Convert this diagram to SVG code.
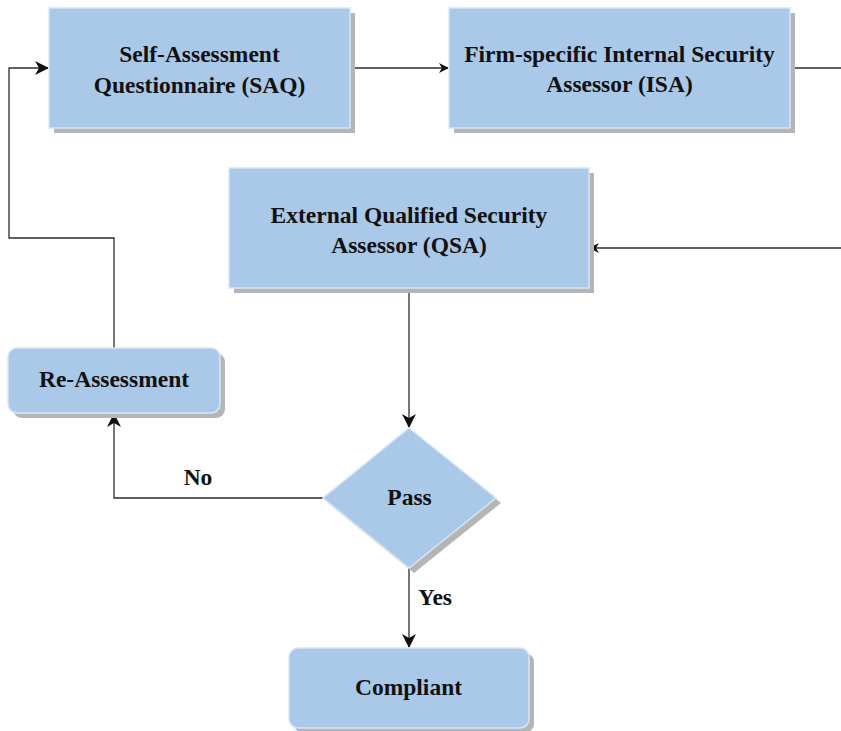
<svg xmlns="http://www.w3.org/2000/svg" width="841" height="731" viewBox="0 0 841 731">
  <style>
    .shadow { fill: #b5b5b5; }
    .box { fill: #aac9e8; stroke: #d6e6f5; stroke-width: 1.5; }
    .label { font-family: "Liberation Serif", "Times New Roman", serif; font-weight: bold; font-size: 23.5px; fill: #111; text-anchor: middle; }
    .edge { fill: none; stroke: #2b2b2b; stroke-width: 1.3; }
  </style>
  <defs>
    <marker id="arrow" viewBox="0 0 10 10" refX="9" refY="5" markerWidth="10" markerHeight="10" markerUnits="userSpaceOnUse" orient="auto">
      <path d="M0,0 L10,5 L0,10 L3,5 Z" fill="#111"/>
    </marker>
    <marker id="arrowL" viewBox="0 0 14 14" refX="13" refY="7" markerWidth="14" markerHeight="14" markerUnits="userSpaceOnUse" orient="auto">
      <path d="M0,0 L14,7 L0,14 L4,7 Z" fill="#111"/>
    </marker>
  </defs>
  <rect width="841" height="731" fill="#ffffff"/>

  <!-- connectors -->
  <g id="connectors">
    <path class="edge" d="M350,68 H448" marker-end="url(#arrow)"/>
    <path class="edge" d="M790,68 H841"/>
    <path class="edge" d="M841,248 H590" marker-end="url(#arrow)"/>
    <path class="edge" d="M409,288 V427" marker-end="url(#arrowL)"/>
    <path class="edge" d="M323,498 H114 V414" marker-end="url(#arrowL)"/>
    <path class="edge" d="M114,348 V238 H9 V68 H48" marker-end="url(#arrowL)"/>
    <path class="edge" d="M409,568 V647" marker-end="url(#arrowL)"/>
    <text class="label" x="198" y="485">No</text>
    <text class="label" x="435" y="605">Yes</text>
  </g>

  <g id="saq">
    <rect class="shadow" x="54" y="13" width="301" height="120"/>
    <rect class="box" x="49" y="8" width="301" height="120"/>
    <text class="label" x="199.5" y="62">Self-Assessment</text>
    <text class="label" x="199.5" y="93">Questionnaire (SAQ)</text>
  </g>

  <g id="isa">
    <rect class="shadow" x="454" y="13" width="341" height="120"/>
    <rect class="box" x="449" y="8" width="341" height="120"/>
    <text class="label" x="619.5" y="62">Firm-specific Internal Security</text>
    <text class="label" x="619.5" y="92">Assessor (ISA)</text>
  </g>

  <g id="qsa">
    <rect class="shadow" x="234" y="173" width="360" height="120"/>
    <rect class="box" x="229" y="168" width="360" height="120"/>
    <text class="label" x="409" y="223">External Qualified Security</text>
    <text class="label" x="409" y="253">Assessor (QSA)</text>
  </g>

  <g id="reassessment">
    <rect class="shadow" x="13" y="353" width="212" height="65" rx="9"/>
    <rect class="box" x="8" y="348" width="212" height="65" rx="9"/>
    <text class="label" x="114" y="387">Re-Assessment</text>
  </g>

  <g id="pass">
    <polygon class="shadow" points="414,433 501,503 414,573 328,503"/>
    <polygon class="box" points="409,428 496,498 409,568 323,498"/>
    <text class="label" x="409.5" y="505">Pass</text>
  </g>

  <g id="compliant">
    <rect class="shadow" x="294" y="653" width="240" height="80" rx="9"/>
    <rect class="box" x="289" y="648" width="240" height="80" rx="9"/>
    <text class="label" x="408.5" y="695">Compliant</text>
  </g>
</svg>
